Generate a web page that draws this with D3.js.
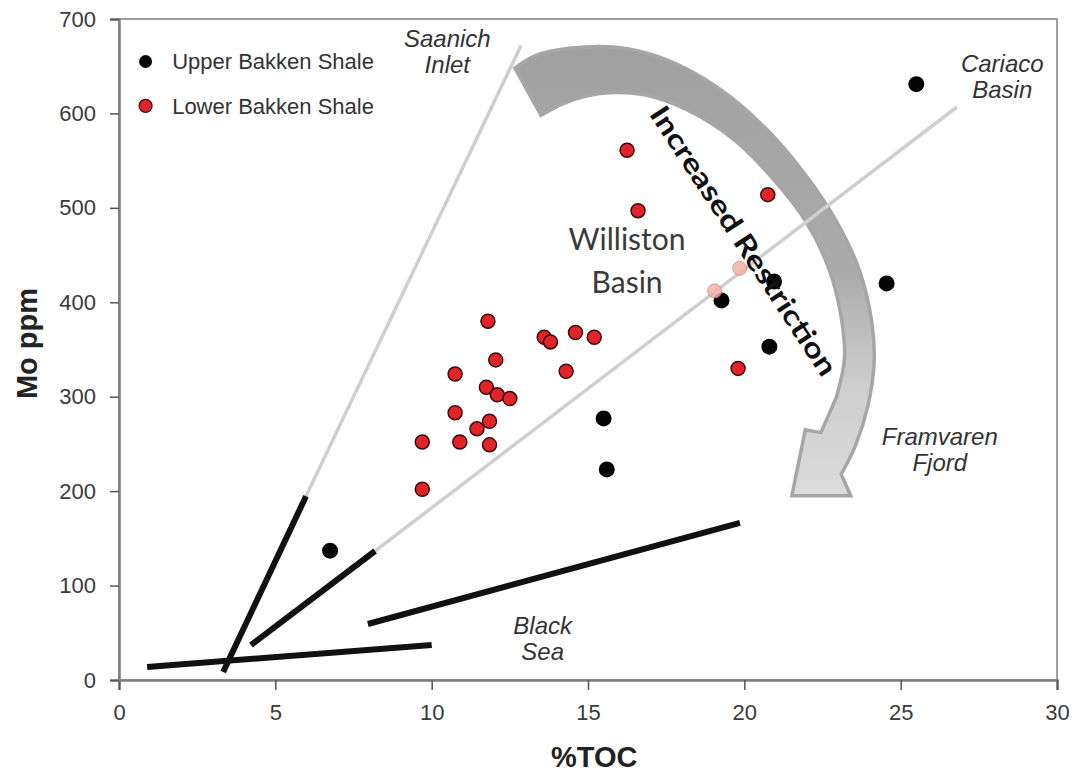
<!DOCTYPE html>
<html>
<head>
<meta charset="utf-8">
<script src="https://cdn.jsdelivr.net/npm/d3@7/dist/d3.min.js"></script>
<style>
  body { margin: 0; background: #fff; }
  svg { display: block; }
</style>
</head>
<body>
<div id="chart"></div>
<script>
// ---- data ----
var xTicks = [0, 5, 10, 15, 20, 25, 30];
var yTicks = [0, 100, 200, 300, 400, 500, 600, 700];

// Upper Bakken Shale (black)
var upperToc = [6.75, 15.5, 15.6, 19.27, 20.95, 20.8, 24.55, 25.5];
var upperMo  = [137, 277, 223, 402, 422, 353, 420, 631];

// Lower Bakken Shale (red)
var lowerToc = [11.8, 13.6, 13.8, 14.6, 15.2, 12.05, 10.75, 14.3, 11.75, 12.1, 12.5,
                10.75, 11.85, 11.45, 9.7, 10.9, 11.85, 9.7, 16.25, 16.6, 20.75, 19.8];
var lowerMo  = [380, 363, 358, 368, 363, 339, 324, 327, 310, 302, 298,
                283, 274, 266, 252, 252, 249, 202, 561, 497, 514, 330];

// two faded lower-shale points sitting on the Cariaco line
var fadedToc = [19.05, 19.85];
var fadedMo  = [412, 436];

// reference basin trends: [toc0, mo0, toc1, mo1]
var grayLines = [
  [5.98, 194.5, 12.86, 672],   // Saanich Inlet
  [8.19, 136.6, 26.8, 606.8]   // Cariaco Basin
];
var blackLines = [
  [3.33, 8.5, 5.98, 194.5],    // Saanich
  [4.22, 37, 8.19, 136.6],     // Cariaco
  [7.96, 59.3, 19.86, 166.3],  // Framvaren
  [0.9, 13.8, 10.0, 37]        // Black Sea
];

// curved arrow (toc, Mo): outer edge, head, inner edge
var arrowOuter = [
  [12.66, 648], [13.3, 661], [14.4, 669], [15.9, 670], [17.5, 657], [19.12, 628],
  [20.72, 583], [22.0, 533], [22.96, 485], [23.7, 432], [24.08, 378], [24.15, 336],
  [23.95, 290], [23.55, 248], [23.1, 218]
];
var arrowHead = [[23.4, 195], [21.52, 195], [21.95, 265], [22.45, 262]];
var arrowInner = [
  [22.95, 300], [23.2, 340], [23.1, 384], [22.72, 434], [22.0, 484],
  [20.91, 531], [19.64, 573], [18.16, 604], [16.76, 620], [15.38, 621], [14.33, 612],
  [13.5, 598]
];

// basin labels: [text lines], toc, Mo of first baseline
var basinLabels = [
  { lines: ["Saanich", "Inlet"], toc: 10.5, mo: 670 },
  { lines: ["Cariaco", "Basin"], toc: 28.25, mo: 644 },
  { lines: ["Framvaren", "Fjord"], toc: 26.25, mo: 249 },
  { lines: ["Black", "Sea"], toc: 13.55, mo: 49 }
];

var W = 1078, H = 778;
var svg = d3.select("#chart").append("svg")
  .attr("width", W).attr("height", H);

var x = d3.scaleLinear().domain([0, 30]).range([119, 1057]);
var y = d3.scaleLinear().domain([0, 700]).range([680, 19]);

var axisFont = "'Liberation Sans', Arial, sans-serif";

// gradient for the arrow
var defs = svg.append("defs");
var grad = defs.append("linearGradient").attr("id", "arrowGrad")
  .attr("x1", 0).attr("y1", 0).attr("x2", 0).attr("y2", 1);
grad.append("stop").attr("offset", "0%").attr("stop-color", "#a0a0a0");
grad.append("stop").attr("offset", "50%").attr("stop-color", "#ababab");
grad.append("stop").attr("offset", "75%").attr("stop-color", "#cdcdcd");
grad.append("stop").attr("offset", "100%").attr("stop-color", "#dcdcdc");

// frame
svg.append("rect")
  .attr("x", x(0)).attr("y", y(700))
  .attr("width", x(30) - x(0)).attr("height", y(0) - y(700))
  .attr("fill", "none").attr("stroke", "#808080").attr("stroke-width", 1.5);

// arrow
var curve = d3.line().x(function (d) { return x(d[0]); }).y(function (d) { return y(d[1]); })
  .curve(d3.curveCatmullRom);
var straight = arrowHead.map(function (d) { return "L" + x(d[0]) + "," + y(d[1]); }).join("");
var arrowD = curve(arrowOuter) + straight + curve(arrowInner).replace(/^M/, "L") + "Z";
svg.append("path")
  .attr("d", arrowD)
  .attr("fill", "url(#arrowGrad)")
  .attr("stroke", "#a6a6a6").attr("stroke-width", 3.5).attr("stroke-linejoin", "miter");

// trend lines
svg.selectAll(".gline").data(grayLines).enter().append("line")
  .attr("x1", function (d) { return x(d[0]); }).attr("y1", function (d) { return y(d[1]); })
  .attr("x2", function (d) { return x(d[2]); }).attr("y2", function (d) { return y(d[3]); })
  .attr("stroke", "#cfcfcf").attr("stroke-width", 3.5);

svg.selectAll(".bline").data(blackLines).enter().append("line")
  .attr("x1", function (d) { return x(d[0]); }).attr("y1", function (d) { return y(d[1]); })
  .attr("x2", function (d) { return x(d[2]); }).attr("y2", function (d) { return y(d[3]); })
  .attr("stroke", "#111").attr("stroke-width", 6);

// axes
var xAxis = svg.append("g").attr("transform", "translate(0," + y(0) + ")")
  .call(d3.axisBottom(x).tickValues(xTicks).tickSize(10).tickPadding(14));
var yAxis = svg.append("g").attr("transform", "translate(" + x(0) + ",0)")
  .call(d3.axisLeft(y).tickValues(yTicks).tickSize(9).tickPadding(14));
[xAxis, yAxis].forEach(function (g) {
  g.select(".domain").attr("stroke", "#808080").attr("stroke-width", 2.5);
  g.selectAll(".tick line").attr("stroke", "#555").attr("stroke-width", 1.5);
  g.selectAll(".tick text").attr("fill", "#3a3a3a")
    .style("font-family", axisFont).style("font-size", "22px");
});

svg.append("text")
  .attr("x", (x(15) + x(20)) / 2 - 72).attr("y", 767)
  .attr("text-anchor", "middle")
  .style("font-family", axisFont).style("font-size", "29px").style("font-weight", "bold")
  .attr("fill", "#222").text("%TOC");

svg.append("text")
  .attr("transform", "translate(37," + ((y(300) + y(400)) / 2 - 6) + ") rotate(-90)")
  .attr("text-anchor", "middle")
  .style("font-family", axisFont).style("font-size", "29px").style("font-weight", "bold")
  .attr("fill", "#222").text("Mo ppm");

// points
svg.selectAll(".upper").data(d3.range(upperToc.length)).enter().append("circle")
  .attr("cx", function (i) { return x(upperToc[i]); })
  .attr("cy", function (i) { return y(upperMo[i]); })
  .attr("r", 8).attr("fill", "#050505");

svg.selectAll(".lower").data(d3.range(lowerToc.length)).enter().append("circle")
  .attr("cx", function (i) { return x(lowerToc[i]); })
  .attr("cy", function (i) { return y(lowerMo[i]); })
  .attr("r", 7).attr("fill", "#e3232a").attr("stroke", "#3a0a0a").attr("stroke-width", 1.5);

svg.selectAll(".faded").data(d3.range(fadedToc.length)).enter().append("circle")
  .attr("cx", function (i) { return x(fadedToc[i]); })
  .attr("cy", function (i) { return y(fadedMo[i]); })
  .attr("r", 7).attr("fill", "#f1b3a8").attr("stroke", "#d88b84").attr("stroke-width", 1)
  .attr("opacity", 0.85);

// legend
var legend = [
  { label: "Upper Bakken Shale", fill: "#050505", stroke: "none", mo: 655 },
  { label: "Lower Bakken Shale", fill: "#e3232a", stroke: "#3a0a0a", mo: 608 }
];
legend.forEach(function (d) {
  svg.append("circle").attr("cx", x(0.85)).attr("cy", y(d.mo)).attr("r", 6.5)
    .attr("fill", d.fill).attr("stroke", d.stroke).attr("stroke-width", 1.2);
  svg.append("text").attr("x", x(1.7)).attr("y", y(d.mo)).attr("dy", "0.35em")
    .style("font-family", axisFont).style("font-size", "22px")
    .attr("fill", "#333").text(d.label);
});

// basin labels
basinLabels.forEach(function (d) {
  var t = svg.append("text").attr("text-anchor", "middle")
    .style("font-family", axisFont).style("font-size", "24px").style("font-style", "italic")
    .attr("fill", "#333");
  d.lines.forEach(function (s, k) {
    t.append("tspan").attr("x", x(d.toc)).attr("y", y(d.mo) + k * 26).text(s);
  });
});

// Williston Basin
var wb = svg.append("text").attr("text-anchor", "middle")
  .style("font-family", "Lato, 'Open Sans', sans-serif").style("font-size", "30px")
  .attr("fill", "#3a3a3a");
wb.append("tspan").attr("x", x(16.25)).attr("y", y(455)).text("Williston");
wb.append("tspan").attr("x", x(16.25)).attr("y", y(410)).text("Basin");

// Increased Restriction
var a0 = [x(17.2), y(605)], a1 = [x(22.75), y(325)];
var ang = Math.atan2(a1[1] - a0[1], a1[0] - a0[0]) * 180 / Math.PI;
var len = Math.hypot(a1[0] - a0[0], a1[1] - a0[1]);
svg.append("text")
  .attr("transform", "translate(" + (a0[0] + a1[0]) / 2 + "," + (a0[1] + a1[1]) / 2 + ") rotate(" + ang + ")")
  .attr("text-anchor", "middle").attr("dy", "0.35em")
  .attr("textLength", len).attr("lengthAdjust", "spacingAndGlyphs")
  .style("font-family", "Lato, 'Open Sans', sans-serif").style("font-size", "28px").style("font-weight", "bold")
  .attr("fill", "#111").text("Increased Restriction");
</script>
</body>
</html>
